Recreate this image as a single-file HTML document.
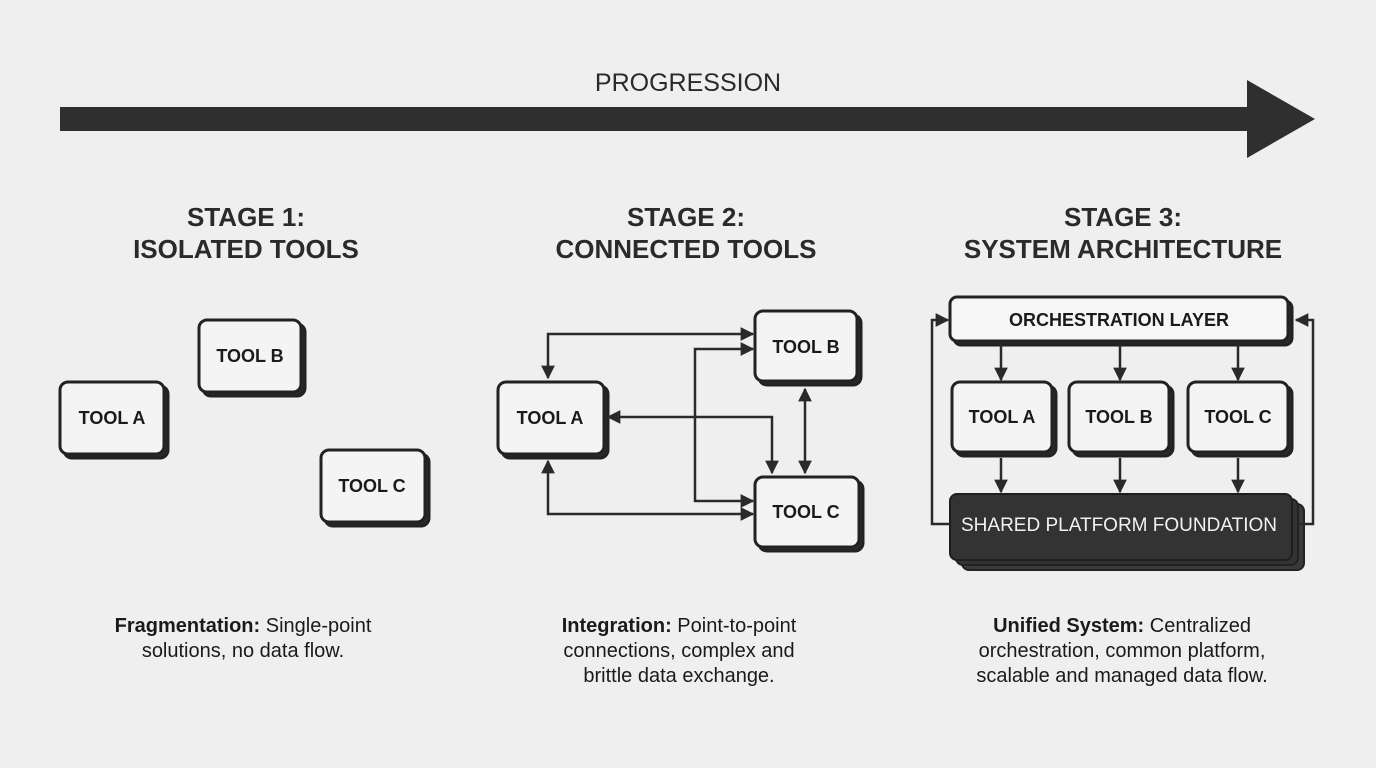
<!DOCTYPE html>
<html><head><meta charset="utf-8"><style>
html,body{margin:0;padding:0;background:#efefef;}
svg{display:block;font-family:"Liberation Sans",Arial,sans-serif;}
.t{font-weight:bold;font-size:18px;fill:#1a1a1a;text-anchor:middle;}
.h{font-weight:bold;font-size:26px;fill:#2a2a2a;text-anchor:middle;}
.c{font-size:20px;fill:#1a1a1a;text-anchor:middle;}
.ln{stroke:#2a2a2a;stroke-width:2.5;fill:none;}
</style></head><body>
<svg width="1376" height="768" viewBox="0 0 1376 768" xmlns="http://www.w3.org/2000/svg">
<defs>
<marker id="a" viewBox="0 0 10 10" refX="9" refY="5" markerWidth="5.5" markerHeight="5.5" orient="auto-start-reverse"><path d="M0,0 L10,5 L0,10 z" fill="#2a2a2a"/></marker>
</defs>
<rect width="1376" height="768" fill="#efefef"/>
<text x="688" y="91" font-size="25" fill="#2a2a2a" text-anchor="middle">PROGRESSION</text>
<rect x="60" y="107" width="1190" height="24" fill="#2f2f2f"/>
<polygon points="1247,80 1315,119 1247,158" fill="#2f2f2f"/>

<text class="h" x="246" y="226">STAGE 1:</text>
<text class="h" x="246" y="258">ISOLATED TOOLS</text>
<text class="h" x="686" y="226">STAGE 2:</text>
<text class="h" x="686" y="258">CONNECTED TOOLS</text>
<text class="h" x="1123" y="226">STAGE 3:</text>
<text class="h" x="1123" y="258">SYSTEM ARCHITECTURE</text>

<g stroke="#222" stroke-width="3">
<rect x="64" y="386" width="104" height="72" rx="8" fill="#2a2a2a"/><rect x="60" y="382" width="104" height="72" rx="8" fill="#f4f4f4"/>
<rect x="203" y="324" width="102" height="72" rx="8" fill="#2a2a2a"/><rect x="199" y="320" width="102" height="72" rx="8" fill="#f4f4f4"/>
<rect x="325" y="454" width="104" height="72" rx="8" fill="#2a2a2a"/><rect x="321" y="450" width="104" height="72" rx="8" fill="#f4f4f4"/>
<rect x="502" y="386" width="106" height="72" rx="8" fill="#2a2a2a"/><rect x="498" y="382" width="106" height="72" rx="8" fill="#f4f4f4"/>
<rect x="759" y="315" width="102" height="70" rx="8" fill="#2a2a2a"/><rect x="755" y="311" width="102" height="70" rx="8" fill="#f4f4f4"/>
<rect x="759" y="481" width="104" height="70" rx="8" fill="#2a2a2a"/><rect x="755" y="477" width="104" height="70" rx="8" fill="#f4f4f4"/>
<rect x="954" y="301" width="338" height="44" rx="7" fill="#2a2a2a"/><rect x="950" y="297" width="338" height="44" rx="7" fill="#f6f6f6"/>
<rect x="956" y="386" width="100" height="70" rx="8" fill="#2a2a2a"/><rect x="952" y="382" width="100" height="70" rx="8" fill="#f4f4f4"/>
<rect x="1073" y="386" width="100" height="70" rx="8" fill="#2a2a2a"/><rect x="1069" y="382" width="100" height="70" rx="8" fill="#f4f4f4"/>
<rect x="1192" y="386" width="100" height="70" rx="8" fill="#2a2a2a"/><rect x="1188" y="382" width="100" height="70" rx="8" fill="#f4f4f4"/>
</g>
<rect x="962" y="504" width="342" height="66" rx="7" fill="#3a3a3a" stroke="#222" stroke-width="2"/>
<rect x="956" y="499" width="342" height="66" rx="7" fill="#333" stroke="#222" stroke-width="2"/>
<rect x="950" y="494" width="342" height="66" rx="7" fill="#333" stroke="#1e1e1e" stroke-width="2"/>

<text class="t" x="112" y="424">TOOL A</text>
<text class="t" x="250" y="362">TOOL B</text>
<text class="t" x="372" y="492">TOOL C</text>
<text class="t" x="550" y="424">TOOL A</text>
<text class="t" x="806" y="353">TOOL B</text>
<text class="t" x="806" y="518">TOOL C</text>
<text class="t" x="1119" y="326">ORCHESTRATION LAYER</text>
<text class="t" x="1002" y="423">TOOL A</text>
<text class="t" x="1119" y="423">TOOL B</text>
<text class="t" x="1238" y="423">TOOL C</text>
<text x="1119" y="531" font-size="19" font-weight="500" fill="#f2f2f2" text-anchor="middle">SHARED PLATFORM FOUNDATION</text>

<g class="ln">
<path d="M753,334 H548 V378" marker-start="url(#a)" marker-end="url(#a)"/>
<path d="M753,349 H695 V501 H753" marker-start="url(#a)" marker-end="url(#a)"/>
<path d="M608,417 H772 V473" marker-start="url(#a)" marker-end="url(#a)"/>
<path d="M805,389 V473" marker-start="url(#a)" marker-end="url(#a)"/>
<path d="M548,461 V514 H753" marker-start="url(#a)" marker-end="url(#a)"/>
<path d="M1001,344 V380" marker-end="url(#a)"/>
<path d="M1120,344 V380" marker-end="url(#a)"/>
<path d="M1238,344 V380" marker-end="url(#a)"/>
<path d="M1001,458 V492" marker-end="url(#a)"/>
<path d="M1120,458 V492" marker-end="url(#a)"/>
<path d="M1238,458 V492" marker-end="url(#a)"/>
<path d="M949,524 H932 V320 H948" marker-end="url(#a)"/>
<path d="M1299,524 H1313 V320 H1296" marker-end="url(#a)"/>
</g>

<text class="c" x="243" y="632"><tspan font-weight="bold">Fragmentation:</tspan> Single-point</text>
<text class="c" x="243" y="657">solutions, no data flow.</text>
<text class="c" x="679" y="632"><tspan font-weight="bold">Integration:</tspan> Point-to-point</text>
<text class="c" x="679" y="657">connections, complex and</text>
<text class="c" x="679" y="682">brittle data exchange.</text>
<text class="c" x="1122" y="632"><tspan font-weight="bold">Unified System:</tspan> Centralized</text>
<text class="c" x="1122" y="657">orchestration, common platform,</text>
<text class="c" x="1122" y="682">scalable and managed data flow.</text>
</svg>
</body></html>
